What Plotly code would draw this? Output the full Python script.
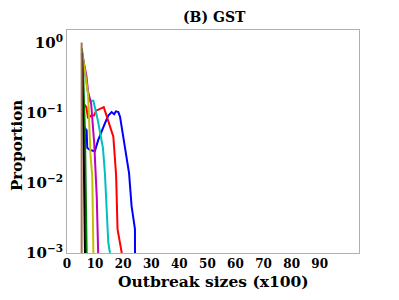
import plotly.graph_objects as go

# Data (x in hundreds, y as log10 of proportion)
brown_x = [5.2, 5.22]
brown_logy = [0.0, -3.6]
black_x = [5.3, 5.6, 6.0, 6.4, 6.45]
black_logy = [-0.15, -0.7, -1.7, -3.0, -3.6]
green_x = [5.3, 5.8, 6.4, 6.8, 7.0, 7.05]
green_logy = [-0.08, -0.5, -1.3, -2.1, -3.0, -3.6]
yellow_x = [5.3, 6.3, 7.5, 8.4, 9.0, 9.4, 9.45]
yellow_logy = [-0.1, -0.36, -0.73, -1.63, -1.9, -3.0, -3.6]
magenta_x = [5.3, 6.9, 7.5, 8.6, 9.7, 10.2, 10.6, 11.1, 11.15]
magenta_logy = [-0.15, -0.47, -0.7, -0.87, -1.44, -1.86, -2.2, -3.0, -3.6]
cyan_x = [5.3, 6.4, 7.4, 8.1, 9.4, 11.0, 12.8, 13.5, 14.7, 15.3, 15.9]
cyan_logy = [-0.1, -0.42, -0.7, -0.83, -0.83, -1.11, -1.5, -1.86, -2.85, -3.0, -3.1]
red_x = [5.6, 6.9, 7.5, 8.6, 9.6, 10.4, 13.1, 14.7, 16.5, 17.1, 17.5, 18.0, 18.9, 19.5, 19.6]
red_logy = [-0.85, -0.92, -1.08, -1.04, -1.04, -0.97, -0.92, -1.11, -1.34, -1.67, -1.9, -2.66, -2.85, -3.0, -3.6]
blue_x = [6.0, 7.0, 7.2, 8.1, 9.9, 11.1, 13.5, 14.7, 15.9, 16.8, 17.4, 18.3, 18.9, 20.0, 21.2, 22.1, 23.0, 24.2, 24.25]
blue_logy = [-1.2, -1.25, -1.5, -1.53, -1.55, -1.39, -1.15, -1.04, -0.99, -1.02, -0.98, -0.99, -1.06, -1.34, -1.67, -1.86, -2.33, -2.66, -3.6]

x_ticks = [0, 10, 20, 30, 40, 50, 60, 70, 80, 90]
y_tickvals = [1e-3, 1e-2, 1e-1, 1]
y_ticktext = ["10<sup>−3</sup>", "10<sup>−2</sup>", "10<sup>−1</sup>", "10<sup>0</sup>"]

series = [
    (blue_x, blue_logy, "#0000FF"),
    (red_x, red_logy, "#FF0000"),
    (cyan_x, cyan_logy, "#00BFBF"),
    (magenta_x, magenta_logy, "#BF00BF"),
    (yellow_x, yellow_logy, "#BFBF00"),
    (green_x, green_logy, "#008000"),
    (black_x, black_logy, "#000000"),
    (brown_x, brown_logy, "#A8704F"),
]

fig = go.Figure()
for xs, ly, col in series:
    fig.add_trace(go.Scatter(x=xs, y=[10 ** v for v in ly], mode="lines",
                             line=dict(color=col, width=2), showlegend=False))

font_fam = "DejaVu Serif"
bold = dict(family=font_fam, color="black", weight="bold")
W, H = 399, 300
# the page body adds an 8px offset, so margins are shifted accordingly
L, R, T, B = 59, 48, 22, 55
PW, PH = W - L - R, H - T - B


def px(fx):
    return (fx - 8 - L) / PW


def py(fy):
    return (H - B - (fy - 8)) / PH


fig.update_layout(
    width=W, height=H,
    margin=dict(l=L, r=R, t=T, b=B, autoexpand=False),
    plot_bgcolor="white", paper_bgcolor="white",
    xaxis=dict(range=[0, 104], tickvals=x_ticks, showgrid=False, zeroline=False,
               automargin=False, showline=True, linecolor="#b0b0b0", linewidth=1,
               mirror=True, ticks="", tickfont=dict(size=12, **bold)),
    yaxis=dict(type="log", range=[-3, 0.18], tickvals=y_tickvals, ticktext=y_ticktext,
               showgrid=False, zeroline=False, automargin=False, showline=True,
               linecolor="#b0b0b0", linewidth=1, mirror=True, ticks="",
               tickfont=dict(size=15, **bold)),
    annotations=[
        dict(text="(B) GST", xref="paper", yref="paper", x=px(214), y=py(17),
             xanchor="center", yanchor="middle", showarrow=False, font=dict(size=14, **bold)),
        dict(text="Outbreak sizes (x100)", xref="paper", yref="paper", x=px(213),
             y=py(281), xanchor="center", yanchor="middle",
             showarrow=False, font=dict(size=15.5, **bold)),
        dict(text="Proportion", xref="paper", yref="paper", x=px(17),
             y=py(146), xanchor="center", yanchor="middle",
             textangle=-90, showarrow=False, font=dict(size=15, **bold)),
    ],
)

fig.write_html("out.html")
